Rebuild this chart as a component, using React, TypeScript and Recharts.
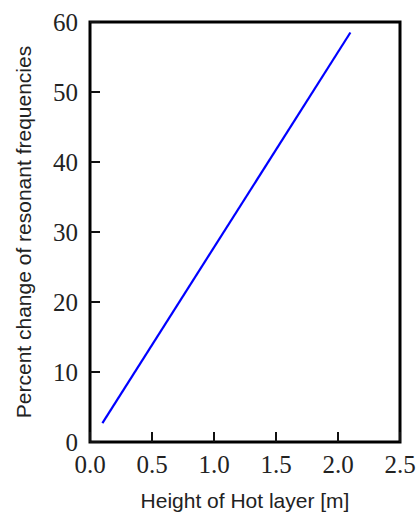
import React from 'react';
import { LineChart, Line, XAxis, YAxis, ReferenceArea } from 'recharts';

// hot layer height (m) vs. percent change of the resonant frequencies
const heights = [0.1, 2.1];
const percentChange = [2.7, 58.5];

const xTicks = [0, 0.5, 1.0, 1.5, 2.0, 2.5];
const yTicks = [0, 10, 20, 30, 40, 50, 60];

const data = heights.map((h, i) => ({ h, pct: percentChange[i] }));

const tickFont = {
  fontFamily: '"Liberation Serif", "DejaVu Serif", serif',
  fontSize: 25,
  fill: '#222',
};

const labelFont = {
  fontFamily: '"Liberation Sans", Arial, sans-serif',
  fontSize: 21,
  fill: '#222',
};

const tickLine = { stroke: '#111', strokeWidth: 2 };

export default function App() {
  return (
    <div style={{ position: 'absolute', left: 0, top: 0, background: '#fff' }}>
      <LineChart width={420} height={519} data={data} margin={{ top: 0, right: 0, bottom: 0, left: 0 }}>
        <XAxis
          dataKey="h"
          type="number"
          domain={[0, 2.5]}
          ticks={xTicks}
          interval={0}
          tickFormatter={(v: number) => v.toFixed(1)}
          height={77}
          axisLine={false}
          tickSize={-10}
          tickMargin={23}
          tickLine={tickLine}
          tick={tickFont}
          label={{ value: 'Height of Hot layer [m]', position: 'insideBottom', offset: 11, style: labelFont }}
        />
        <XAxis
          xAxisId="top"
          orientation="top"
          type="number"
          domain={[0, 2.5]}
          ticks={xTicks}
          interval={0}
          height={22}
          axisLine={false}
          tickSize={-10}
          tickLine={tickLine}
          tick={false}
        />
        <YAxis
          type="number"
          domain={[0, 60]}
          ticks={yTicks}
          interval={0}
          width={90}
          axisLine={false}
          tickSize={-10}
          tickMargin={22}
          tickLine={tickLine}
          tick={tickFont}
          label={{
            value: 'Percent change of resonant frequencies',
            angle: -90,
            position: 'insideLeft',
            offset: 24,
            style: { ...labelFont, textAnchor: 'middle' },
          }}
        />
        <YAxis
          yAxisId="right"
          orientation="right"
          type="number"
          domain={[0, 60]}
          ticks={yTicks}
          interval={0}
          width={20}
          axisLine={false}
          tickSize={-10}
          tickLine={tickLine}
          tick={false}
        />
        <ReferenceArea x1={0} x2={2.5} y1={0} y2={60} fill="none" stroke="#000" strokeWidth={3} />
        <Line
          type="linear"
          dataKey="pct"
          stroke="#0000ff"
          strokeWidth={2.2}
          dot={false}
          isAnimationActive={false}
        />
      </LineChart>
    </div>
  );
}
